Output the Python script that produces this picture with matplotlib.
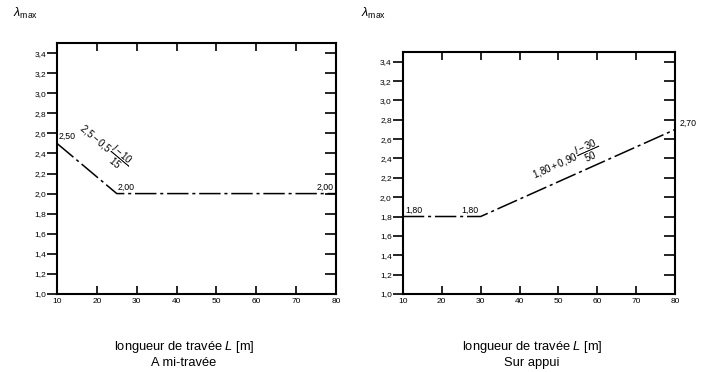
import matplotlib
matplotlib.use("Agg")
import matplotlib.pyplot as plt

plt.rcParams['font.family'] = ['Liberation Sans', 'DejaVu Sans']
plt.rcParams['mathtext.fontset'] = 'custom'
plt.rcParams['mathtext.rm'] = 'Liberation Sans'
plt.rcParams['mathtext.it'] = 'Liberation Sans:italic'

# data
span_left = [10, 25, 80]
lam_left = [2.50, 2.00, 2.00]
span_right = [10, 30, 80]
lam_right = [1.80, 1.80, 2.70]
xticks = [10, 20, 30, 40, 50, 60, 70, 80]
yticks = [1.0, 1.2, 1.4, 1.6, 1.8, 2.0, 2.2, 2.4, 2.6, 2.8, 3.0, 3.2, 3.4]
ytick_labels = [f"{v:.1f}".replace('.', ',') for v in yticks]
subtitles = ["A mi-travée", "Sur appui"]

fig = plt.figure(figsize=(7.13, 3.72), dpi=100)
ax1 = fig.add_axes([0.080, 0.210, 0.391, 0.674])
ax2 = fig.add_axes([0.565, 0.210, 0.382, 0.650])

ls = (0, (14, 2.5, 2, 2.5))
for ax, xs, ys, sub, lx, ly in [(ax1, span_left, lam_left, subtitles[0], 0.455, -0.18),
                                (ax2, span_right, lam_right, subtitles[1], 0.474, -0.187)]:
    ax.plot(xs, ys, color='black', lw=1.1, linestyle=ls)
    ax.set_xlim(10, 80)
    ax.set_ylim(1.0, 3.5)
    ax.set_xticks(xticks)
    ax.set_xticklabels([str(v) for v in xticks], fontsize=6)
    ax.set_yticks(yticks)
    ax.set_yticklabels(ytick_labels, fontsize=6)
    ax.tick_params(axis='x', direction='in', top=True, length=6, width=1.2, pad=3)
    ax.tick_params(axis='y', direction='out', length=7, width=1.2, pad=1)
    for sp in ax.spines.values():
        sp.set_linewidth(1.5)
    # right-side inward ticks
    ax2y = ax.secondary_yaxis('right')
    ax2y.set_yticks(yticks[1:])
    ax2y.tick_params(direction='in', length=8, width=1.2, labelright=False)
    ax2y.spines['right'].set_visible(False)
    ax.set_xlabel("longueur de travée $\\mathit{L}$ [m]\n" + sub, fontsize=9.3,
                  linespacing=1.25, va='top')
    ax.xaxis.set_label_coords(lx, ly)

fig.text(0.018, 0.955, "$\\lambda_{\\rm max}$", fontsize=9)
fig.text(0.507, 0.955, "$\\lambda_{\\rm max}$", fontsize=9)

# left annotations
ax1.text(10.5, 2.53, "2,50", fontsize=6.3, ha='left', va='bottom')
ax1.text(25.3, 2.02, "2,00", fontsize=6.3, ha='left', va='bottom')
ax1.text(79.5, 2.02, "2,00", fontsize=6.3, ha='right', va='bottom')
ax1.text(21.7, 2.47, "$2{,}5 - 0{,}5\\,\\dfrac{l - 10}{15}$", fontsize=7, rotation=-40,
         ha='center', va='center', rotation_mode='anchor')

# right annotations
ax2.text(10.5, 1.82, "1,80", fontsize=6.3, ha='left', va='bottom')
ax2.text(29.5, 1.82, "1,80", fontsize=6.3, ha='right', va='bottom')
ax2.text(81.2, 2.72, "2,70", fontsize=6.3, ha='left', va='bottom', clip_on=False)
ax2.text(52.0, 2.37, "$1{,}80 + 0{,}90\\,\\dfrac{l - 30}{50}$", fontsize=7, rotation=24,
         ha='center', va='center', rotation_mode='anchor')

fig.savefig("out.png", dpi=100)
